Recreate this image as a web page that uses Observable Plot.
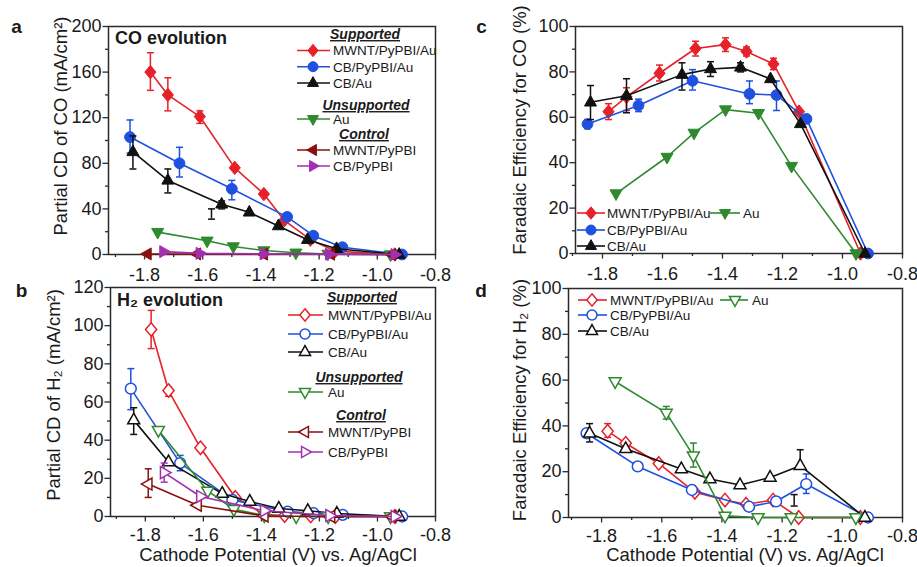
<!DOCTYPE html>
<html><head><meta charset="utf-8">
<script src="https://cdn.jsdelivr.net/npm/d3@7"></script>
<script src="https://cdn.jsdelivr.net/npm/@observablehq/plot@0.6"></script>
<style>
body{margin:0;background:#fff;}
#fig{position:relative;width:917px;height:567px;overflow:hidden;background:#fff;}
#fig svg{position:absolute;overflow:visible;}
</style></head><body><div id="fig"></div>
<script>
// ---------------- data ----------------
const seriesNames = ["MWNT/PyPBI/Au", "CB/PyPBI/Au", "CB/Au", "Au", "MWNT/PyPBI", "CB/PyPBI"];
const legendHeadings = ["Supported", "Unsupported", "Control"];
const panelLetters = ["a", "b", "c", "d"];
const panelTitles = ["CO evolution", "H\u2082 evolution"];
const yTitles = ["Partial CD of CO (mA/cm\u00B2)", "Partial CD of H\u2082 (mA/cm\u00B2)", "Faradaic Efficiency for CO (%)", "Faradaic Efficiency for H\u2082 (%)"];
const xTitle = "Cathode Potential (V) vs. Ag/AgCl";

const xTicks = [-1.8, -1.6, -1.4, -1.2, -1.0, -0.8];
const xTickLabels = ["-1.8", "-1.6", "-1.4", "-1.2", "-1.0", "-0.8"];
const xMinor = [-1.9, -1.7, -1.5, -1.3, -1.1, -0.9];
const yTicksA = [0, 40, 80, 120, 160, 200];
const yTickLabelsA = ["0", "40", "80", "120", "160", "200"];
const yMinorA = [20, 60, 100, 140, 180];
const yTicksB = [0, 20, 40, 60, 80, 100, 120];
const yTickLabelsB = ["0", "20", "40", "60", "80", "100", "120"];
const yMinorB = [10, 30, 50, 70, 90, 110];
const yTicksFE = [0, 20, 40, 60, 80, 100];
const yTickLabelsFE = ["0", "20", "40", "60", "80", "100"];
const yMinorFE = [10, 30, 50, 70, 90];

// cathode potentials of each catalyst (V vs Ag/AgCl)
const xMwntAu = [-1.78, -1.72, -1.61, -1.49, -1.39, -1.32, -1.23, -1.145, -0.94];
const xCbPyAu = [-1.85, -1.68, -1.50, -1.31, -1.22, -1.12, -0.915];
const xCbAu   = [-1.84, -1.72, -1.535, -1.44, -1.34, -1.24, -1.14, -0.925];
const xAu     = [-1.755, -1.585, -1.495, -1.39, -1.28, -1.17, -0.955];
const xMwntPy = [-1.79, -1.62, -1.39, -1.16, -0.95];
const xCbPy   = [-1.735, -1.61, -1.39, -1.165, -0.94];

// (a) partial CD of CO
const coCD_MwntAu = [160, 140, 121, 76, 53, 30, 13, 3, 0];
const coCD_CbPyAu = [103, 80, 57.6, 33, 16.5, 6.4, 0];
const coCD_CbAu   = [90, 65, 44, 37, 25, 13, 5, 0];
const coCD_Au     = [19.6, 12, 7, 3.5, 1.5, 0.5, 0];
const coCD_MwntPy = [0.5, 0.5, 0.3, 0.2, 0];
const coCD_CbPy   = [2.5, 1, 0.5, 0.3, 0];
const coCD_err_MwntAu = [[-1.78, 144, 177], [-1.72, 126, 155], [-1.61, 115, 126]];
const coCD_err_CbPyAu = [[-1.85, 89, 118], [-1.68, 68, 94], [-1.50, 48, 65], [-1.31, 30, 36]];
const coCD_err_CbAu   = [[-1.84, 75, 104], [-1.72, 54, 75], [-1.535, 40, 47]];
const coCD_err_stray  = [[-1.57, 31, 40]];

// (b) partial CD of H2
const h2CD_MwntAu = [98, 66, 36, 10, 1, 0.5, 0.3, 0, 0];
const h2CD_CbPyAu = [67, 28, 8.7, 2.6, 1.7, 0.9, 0];
const h2CD_CbAu   = [50.5, 28.6, 12, 7.9, 4.2, 3, 1.6, 0];
const h2CD_Au     = [45.2, 13.4, 3.8, 0.5, 0, 0, 0];
const h2CD_MwntPy = [17, 5.9, 0.3, 0, 0];
const h2CD_CbPy   = [23, 10.5, 3, 0.5, 0];
const h2CD_err_MwntAu = [[-1.78, 88, 108], [-1.72, 63, 68]];
const h2CD_err_CbPyAu = [[-1.85, 56, 77.5], [-1.68, 24, 32]];
const h2CD_err_CbAu   = [[-1.84, 43, 57]];
const h2CD_err_MwntPy = [[-1.79, 10, 25]];
const h2CD_err_CbPy   = [[-1.735, 18, 28]];

// (c) Faradaic efficiency for CO
const coFE_MwntAu = [62.5, 69, 79.4, 90.3, 92, 89, 83.5, 62.5, 0];
const coFE_CbPyAu = [57, 65.2, 76.1, 70.3, 69.8, 59.3, 0];
const coFE_CbAu   = [66.6, 69.5, 78.8, 81.3, 82, 76.9, 57.1, 0];
const coFE_Au     = [26.4, 42.5, 53.1, 63.4, 61.8, 38.5, 0];
const coFE_err_MwntAu = [[-1.78, 59, 66], [-1.72, 63, 73], [-1.61, 76, 83], [-1.49, 87, 93.5], [-1.39, 89, 95], [-1.32, 87, 91], [-1.23, 81, 86]];
const coFE_err_CbPyAu = [[-1.85, 55, 59], [-1.68, 62.5, 68], [-1.50, 72, 81], [-1.31, 66, 76], [-1.22, 63, 76]];
const coFE_err_CbAu   = [[-1.84, 59, 74], [-1.72, 62, 77], [-1.535, 72, 84], [-1.44, 78, 84.5], [-1.34, 80, 84]];

// (d) Faradaic efficiency for H2
const h2FE_MwntAu = [37.7, 32.4, 23.6, 11, 7.6, 5.8, 7.6, 0, 0];
const h2FE_CbPyAu = [36.8, 22.3, 12, 4.7, 7, 14.6, 0];
const h2FE_CbAu   = [36.8, 30, 21.2, 16.8, 14.2, 17.5, 22.6, 0];
const h2FE_Au     = [59.4, 45.7, 27, 0.7, 0, 0, 0];
const h2FE_err_MwntAu = [[-1.78, 35, 41]];
const h2FE_err_CbPyAu = [[-1.12, 10.5, 19]];
const h2FE_err_CbAu   = [[-1.84, 33, 41], [-1.14, 22.6, 29.6]];
const h2FE_err_Au     = [[-1.585, 43, 48.5], [-1.495, 22, 32.5]];
const h2FE_err_stray  = [[-1.16, 5, 10]];

// ---------------- styling ----------------
const fontFam = '"Liberation Sans", Arial, Helvetica, sans-serif';
const axisColor = "#2a2a2a", textColor = "#1a1a1a";
const tickFont = 18;
function polySym(pts) {
  return {draw(ctx, size) {
    const r = Math.sqrt(size / Math.PI);
    pts.forEach(([px, py], k) => k ? ctx.lineTo(px * r, py * r) : ctx.moveTo(px * r, py * r));
    ctx.closePath();
  }};
}
const symDiamond = polySym([[0, -1.2], [1.0, 0], [0, 1.2], [-1.0, 0]]);
const symUp = polySym([[0, -1.15], [1.0, 0.62], [-1.0, 0.62]]);
const symDown = polySym([[0, 1.15], [1.0, -0.62], [-1.0, -0.62]]);
const symLeft = polySym([[-1.15, 0], [0.62, -1.0], [0.62, 1.0]]);
const symRight = polySym([[1.15, 0], [-0.62, -1.0], [-0.62, 1.0]]);
const symCap = {draw(ctx, size) { const r = Math.sqrt(size / Math.PI); ctx.moveTo(-r, 0); ctx.lineTo(r, 0); }};
const seriesStyle = [
  {color: "#e62129", symbol: symDiamond, r: 5.6},
  {color: "#1f50e0", symbol: d3.symbolCircle, r: 5.4},
  {color: "#111111", symbol: symUp, r: 6},
  {color: "#2f8a2f", symbol: symDown, r: 6},
  {color: "#8a1010", symbol: symLeft, r: 6},
  {color: "#a22fb0", symbol: symRight, r: 6}
];

const panels = [
  {letter: 0, left: 0, top: 0, width: 458, height: 280, m: [26, 23, 26, 108], xDomain: [-1.924, -0.8], yDomain: [0, 200],
   yTicks: yTicksA, yLabels: yTickLabelsA, yMinor: yMinorA, open: false, xPad: 8, title: 0, titlePos: [115, 44],
   letterPos: [16.5, 33], yTitle: 0, yTitlePos: [67, 126], xTitle: false,
   series: [[0, xMwntAu, coCD_MwntAu, coCD_err_MwntAu], [1, xCbPyAu, coCD_CbPyAu, coCD_err_CbPyAu], [2, xCbAu, coCD_CbAu, coCD_err_CbAu],
            [3, xAu, coCD_Au], [4, xMwntPy, coCD_MwntPy], [5, xCbPy, coCD_CbPy]],
   stray: coCD_err_stray,
   legend: {type: "full", lx1: 297, lx2: 330, mx: 313, tx: 333, heads: [[0, 365, 34], [1, 366, 105], [2, 364, 134]],
            items: [[0, 50.5], [1, 66.7], [2, 83], [3, 119], [4, 150], [5, 166]]}},
  {letter: 1, left: 0, top: 280, width: 458, height: 287, m: [7, 23, 51, 110], xDomain: [-1.92, -0.8], yDomain: [0, 120],
   yTicks: yTicksB, yLabels: yTickLabelsB, yMinor: yMinorB, open: true, xPad: 6, title: 1, titlePos: [117, 26],
   letterPos: [21.5, 17], yTitle: 1, yTitlePos: [60, 115], xTitle: true, xTitlePos: [278, 281],
   series: [[0, xMwntAu, h2CD_MwntAu, h2CD_err_MwntAu], [1, xCbPyAu, h2CD_CbPyAu, h2CD_err_CbPyAu], [2, xCbAu, h2CD_CbAu, h2CD_err_CbAu],
            [3, xAu, h2CD_Au], [4, xMwntPy, h2CD_MwntPy, h2CD_err_MwntPy], [5, xCbPy, h2CD_CbPy, h2CD_err_CbPy]],
   legend: {type: "full", lx1: 288, lx2: 323, mx: 305, tx: 328, heads: [[0, 362, 17], [1, 359, 97], [2, 361, 135]],
            items: [[0, 35], [1, 54], [2, 72], [3, 112], [4, 152], [5, 172]]}},
  {letter: 2, left: 458, top: 0, width: 459, height: 280, m: [26, 15, 27, 117], xDomain: [-1.89, -0.8], yDomain: [0, 100],
   yTicks: yTicksFE, yLabels: yTickLabelsFE, yMinor: yMinorFE, open: false, xPad: 8,
   letterPos: [23.5, 33], yTitle: 2, yTitlePos: [68, 130], xTitle: false,
   series: [[0, xMwntAu, coFE_MwntAu, coFE_err_MwntAu], [1, xCbPyAu, coFE_CbPyAu, coFE_err_CbPyAu], [2, xCbAu, coFE_CbAu, coFE_err_CbAu],
            [3, xAu, coFE_Au]],
   legend: {type: "compact", cols: [[119, 147, 133, 149], [252, 282, 267, 285]], items: [[0, 0, 213], [1, 0, 230], [2, 0, 246], [3, 1, 213]]}},
  {letter: 3, left: 458, top: 280, width: 459, height: 287, m: [8, 15, 50, 110], xDomain: [-1.91, -0.8], yDomain: [0, 100],
   yTicks: yTicksFE, yLabels: yTickLabelsFE, yMinor: yMinorFE, open: true, xPad: 6,
   letterPos: [23, 17], yTitle: 3, yTitlePos: [68, 120], xTitle: true, xTitlePos: [287, 281],
   series: [[0, xMwntAu, h2FE_MwntAu, h2FE_err_MwntAu], [1, xCbPyAu, h2FE_CbPyAu, h2FE_err_CbPyAu], [2, xCbAu, h2FE_CbAu, h2FE_err_CbAu],
            [3, xAu, h2FE_Au, h2FE_err_Au]],
   stray: h2FE_err_stray,
   legend: {type: "compact", cols: [[120, 149, 134, 152], [262, 290, 277, 294]], items: [[0, 0, 20], [1, 0, 35], [2, 0, 51], [3, 1, 20]]}}
];

const xLabelOf = new Map(xTicks.map((t, i) => [t, xTickLabels[i]]));

function errMarks(list, color) {
  const er = list.map(([x, lo, hi]) => ({x, lo, hi}));
  return [
    Plot.ruleX(er, {x: "x", y1: "lo", y2: "hi", stroke: color, strokeWidth: 1.5}),
    Plot.dot(er, {x: "x", y: "lo", symbol: symCap, r: 3.5, fill: "none", stroke: color, strokeWidth: 1.5}),
    Plot.dot(er, {x: "x", y: "hi", symbol: symCap, r: 3.5, fill: "none", stroke: color, strokeWidth: 1.5})
  ];
}

function buildPanel(p) {
  const yLabelOf = new Map(p.yTicks.map((t, i) => [t, p.yLabels[i]]));
  const marks = [
    Plot.axisX({ticks: xMinor, tickSize: 3, tickFormat: () => "", label: null, stroke: axisColor, strokeWidth: 1.3}),
    Plot.axisX({ticks: xTicks, tickSize: 5.5, tickPadding: p.xPad, tickFormat: d => xLabelOf.get(d), label: null,
                stroke: axisColor, fill: textColor, fontSize: tickFont, strokeWidth: 1.3}),
    Plot.axisY({ticks: p.yMinor, tickSize: 3, tickFormat: () => "", label: null, stroke: axisColor, strokeWidth: 1.3}),
    Plot.axisY({ticks: p.yTicks, tickSize: 5.5, tickPadding: 1.5, tickFormat: d => yLabelOf.get(d), label: null,
                stroke: axisColor, fill: textColor, fontSize: tickFont, strokeWidth: 1.3}),
    Plot.frame({stroke: axisColor, strokeWidth: 1.5})
  ];
  for (const [k, xs, ys, err] of p.series) {
    const st = seriesStyle[k];
    const rows = xs.map((x, i) => ({x, y: ys[i]}));
    marks.push(Plot.line(rows, {x: "x", y: "y", stroke: st.color, strokeWidth: 1.6}));
    if (err) marks.push(...errMarks(err, st.color));
    marks.push(Plot.dot(rows, {x: "x", y: "y", symbol: st.symbol, r: st.r,
      fill: p.open ? "white" : st.color, stroke: st.color, strokeWidth: p.open ? 1.5 : 1}));
  }
  if (p.stray) marks.push(...errMarks(p.stray, "#111"));
  const svg = Plot.plot({
    width: p.width, height: p.height,
    marginTop: p.m[0], marginRight: p.m[1], marginBottom: p.m[2], marginLeft: p.m[3],
    x: {type: "linear", domain: p.xDomain},
    y: {type: "linear", domain: p.yDomain},
    style: {fontFamily: fontFam, background: "none", overflow: "visible", color: textColor},
    marks
  });
  svg.style.left = p.left + "px";
  svg.style.top = p.top + "px";
  decorate(svg, p);
  return svg;
}

function decorate(svgNode, p) {
  const g = d3.select(svgNode).append("g").attr("font-family", fontFam).attr("fill", textColor)
    .attr("text-anchor", "start");
  // panel letter
  g.append("text").attr("x", p.letterPos[0]).attr("y", p.letterPos[1]).attr("text-anchor", "middle")
    .attr("font-weight", "bold").attr("font-size", 19).text(panelLetters[p.letter]);
  if (p.title !== undefined) {
    g.append("text").attr("x", p.titlePos[0]).attr("y", p.titlePos[1]).attr("font-weight", "bold")
      .attr("text-anchor", "start").attr("font-size", 18).text(panelTitles[p.title]);
  }
  g.append("text").attr("transform", `translate(${p.yTitlePos[0]},${p.yTitlePos[1]}) rotate(-90)`)
    .attr("text-anchor", "middle").attr("font-size", 18.5).text(yTitles[p.yTitle]);
  if (p.xTitle) {
    g.append("text").attr("x", p.xTitlePos[0]).attr("y", p.xTitlePos[1]).attr("text-anchor", "middle")
      .attr("font-size", 18.5).text(xTitle);
  }
  const L = p.legend;
  const drawItem = (k, lx1, lx2, mx, tx, y) => {
    const st = seriesStyle[k];
    g.append("line").attr("x1", lx1).attr("x2", lx2).attr("y1", y).attr("y2", y)
      .attr("stroke", st.color).attr("stroke-width", 1.6);
    g.append("path").attr("d", d3.symbol(st.symbol, st.r * st.r * Math.PI * 0.85)())
      .attr("transform", `translate(${mx},${y})`)
      .attr("fill", p.open ? "white" : st.color).attr("stroke", st.color).attr("stroke-width", p.open ? 1.5 : 1);
    g.append("text").attr("x", tx).attr("y", y).attr("dy", "0.36em").attr("text-anchor", "start")
      .attr("font-size", 13.5).text(seriesNames[k]);
  };
  if (L.type === "full") {
    for (const [h, x, y] of L.heads) {
      g.append("text").attr("x", x).attr("y", y).attr("dy", "0.36em").attr("text-anchor", "middle")
        .attr("font-size", 14).attr("font-weight", "bold").attr("font-style", "italic")
        .attr("text-decoration", "underline").text(legendHeadings[h]);
    }
    for (const [k, y] of L.items) drawItem(k, L.lx1, L.lx2, L.mx, L.tx, y);
  } else {
    for (const [k, c, y] of L.items) { const col = L.cols[c]; drawItem(k, col[0], col[1], col[2], col[3], y); }
  }
}

const fig = document.getElementById("fig");
for (const p of panels) fig.appendChild(buildPanel(p));
</script></body></html>
